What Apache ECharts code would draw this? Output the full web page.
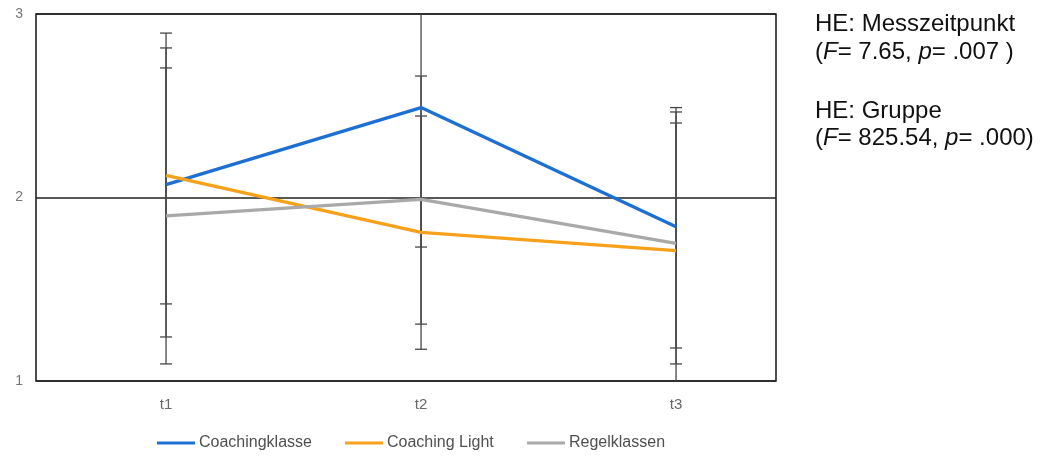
<!DOCTYPE html>
<html>
<head>
<meta charset="utf-8">
<script src="https://cdn.jsdelivr.net/npm/echarts@6/dist/echarts.min.js"></script>
<style>
html,body{margin:0;padding:0;background:#fff;}
#chart{width:1043px;height:456px;}
</style>
</head>
<body>
<div id="chart"></div>
<script>
// ---- data ----
const categories = ['t1', 't2', 't3'];
const seriesNames = ['Coachingklasse', 'Coaching Light', 'Regelklassen'];
const coachingklasse = [2.07, 2.49, 1.84];
const coachingLight = [2.12, 1.81, 1.71];
const regelklassen = [1.90, 1.99, 1.75];
// error bar bounds per series
const coachingklasseHigh = [2.815, 3.10, 2.49];
const coachingklasseLow = [1.24, 1.73, 1.18];
const coachingLightHigh = [2.896, 2.444, 2.406];
const coachingLightLow = [1.42, 1.173, 0.95];
const regelklassenHigh = [2.706, 2.662, 2.466];
const regelklassenLow = [1.093, 1.31, 1.093];
const yTicks = [1, 2, 3];
const annotations = [
  'HE: Messzeitpunkt',
  '({i|F}= 7.65, {i|p}= .007 )',
  'HE: Gruppe',
  '({i|F}= 825.54, {i|p}= .000)'
];

const colors = ['#1d6fd3', '#f7a11a', '#a9a9a9'];
const means = [coachingklasse, coachingLight, regelklassen];
const highs = [coachingklasseHigh, coachingLightHigh, regelklassenHigh];
const lows = [coachingklasseLow, coachingLightLow, regelklassenLow];

const chart = echarts.init(document.getElementById('chart'));

const errData = [];
for (let s = 0; s < 3; s++) {
  for (let i = 0; i < categories.length; i++) {
    errData.push([i + 1, lows[s][i], highs[s][i]]);
  }
}

const lineSeries = seriesNames.map((name, s) => ({
  name: name,
  type: 'line',
  data: means[s].map((v, i) => [i + 1, v]),
  symbol: 'none',
  z: 5,
  lineStyle: { width: 3.3, color: colors[s] },
  itemStyle: { color: colors[s] }
}));

const errSeries = {
  type: 'custom',
  z: 3,
  silent: true,
  data: errData,
  encode: { x: 0, y: [1, 2] },
  renderItem: function (params, api) {
    const x = api.value(0);
    const pLo = api.coord([x, api.value(1)]);
    const pHi = api.coord([x, api.value(2)]);
    const cs = params.coordSys;
    const top = cs.y, bot = cs.y + cs.height;
    const yHi = Math.max(top, pHi[1]);
    const yLo = Math.min(bot, pLo[1]);
    const style = { stroke: '#474747', lineWidth: 1.3 };
    const children = [{
      type: 'line',
      shape: { x1: pHi[0], y1: yHi, x2: pLo[0], y2: yLo },
      style: style
    }];
    const hw = 6;
    if (pHi[1] >= top) children.push({ type: 'line', shape: { x1: pHi[0] - hw, y1: pHi[1], x2: pHi[0] + hw, y2: pHi[1] }, style: style });
    if (pLo[1] <= bot) children.push({ type: 'line', shape: { x1: pLo[0] - hw, y1: pLo[1], x2: pLo[0] + hw, y2: pLo[1] }, style: style });
    return { type: 'group', children: children };
  }
};

const legendLefts = [157, 345, 527];
const legends = seriesNames.map((name, s) => ({
  data: [{ name: name, icon: 'rect' }],
  left: legendLefts[s],
  top: 435,
  padding: 0,
  itemWidth: 38,
  itemHeight: 3,
  itemGap: 0,
  textStyle: { fontFamily: 'Liberation Sans', fontSize: 16, color: '#505050', padding: [0, 0, 0, -1] }
}));

const annY = [24, 52, 111, 138];
const graphics = annotations.map((t, k) => ({
  type: 'text',
  left: 815,
  top: annY[k] - 12,
  style: {
    text: t,
    fontFamily: 'Liberation Sans',
    fontSize: 24,
    fill: '#111',
    rich: { i: { fontStyle: 'italic', fontFamily: 'Liberation Sans', fontSize: 24, fill: '#111' } }
  }
}));

chart.setOption({
  animation: false,
  backgroundColor: '#fff',
  grid: {
    left: 36, right: 267, top: 14, bottom: 75,
    show: true, borderColor: '#222', borderWidth: 1.6, backgroundColor: 'transparent'
  },
  xAxis: {
    type: 'value',
    min: 0.49,
    max: 3.392,
    axisLine: { show: false },
    axisTick: { show: false },
    splitLine: { show: false },
    axisLabel: {
      customValues: [1, 2, 3],
      formatter: function (v) { return categories[Math.round(v) - 1] || ''; },
      margin: 16,
      fontFamily: 'Liberation Sans',
      fontSize: 15,
      color: '#666'
    }
  },
  yAxis: {
    type: 'value',
    min: yTicks[0],
    max: yTicks[yTicks.length - 1],
    interval: 1,
    axisLine: { show: false },
    axisTick: { show: false },
    splitLine: { show: true, lineStyle: { color: '#222', width: 1.5 } },
    axisLabel: { margin: 13, fontFamily: 'Liberation Sans', fontSize: 14, color: '#777' }
  },
  legend: legends,
  graphic: graphics,
  series: [errSeries].concat(lineSeries)
});
</script>
</body>
</html>
